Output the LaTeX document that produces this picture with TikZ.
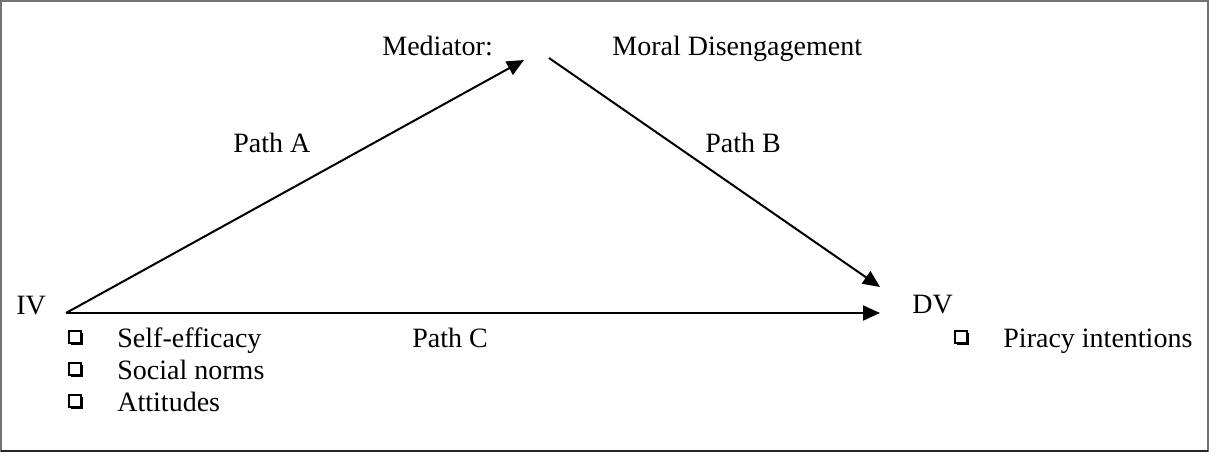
\documentclass[tikz,border=0pt]{standalone}
\usepackage{fontspec}
\setmainfont{Liberation Serif}
\usetikzlibrary{arrows.meta,shadows}

\begin{document}
\begin{tikzpicture}[
  x=0.5pt, y=-0.5pt,
  font=\fontsize{14}{17}\selectfont,
  lbl/.style={inner sep=0, anchor=base west},
  pth/.style={line width=1pt, -{Triangle[length=8.5pt,width=7.5pt]}},
  chk/.style={draw, line width=0.6pt, minimum size=6pt, inner sep=0, fill=white,
    drop shadow={shadow xshift=1pt, shadow yshift=-1pt, fill=black, opacity=1}},
]
\useasboundingbox (0,0) rectangle (1218,455);
\draw[black!55, line width=1pt] (1,1) rectangle (1208,451);
\draw[black!85, line width=1pt] (1,451) -- (1208,451);
% --- mediator ---
\node[lbl] (medlbl) at (382,55) {Mediator:};
\node[lbl] (medname) at (612,55) {Moral Disengagement};
\coordinate (medin) at (524,60);
\coordinate (medout) at (549,58);
% --- IV / DV ---
\node[lbl] (iv) at (16,314) {IV};
\node[lbl] (dv) at (912,313) {DV};
\coordinate (ivpt) at (66,313);
\coordinate (dvin) at (880,287);
\coordinate (dvpt) at (880,313);
% --- sciezki ---
\draw[pth] (ivpt) -- (medin);
\draw[pth] (medout) -- (dvin);
\draw[pth] (ivpt) -- (dvpt);
\node[lbl] (pa) at (233,152) {Path A};
\node[lbl] (pb) at (705,152) {Path B};
\node[lbl] (pc) at (412,347) {Path C};
% --- listy ---
\foreach \t [count=\i] in {Self-efficacy, Social norms, Attitudes} {
  \node[chk] (ivb\i) at (75,{337+32*(\i-1)}) {};
  \node[lbl] (ivt\i) at (117,{347+32*(\i-1)}) {\t};
}
\node[chk] (dvb1) at (961,337) {};
\node[lbl] (dvt1) at (1003,347) {Piracy intentions};
\end{tikzpicture}
\end{document}
